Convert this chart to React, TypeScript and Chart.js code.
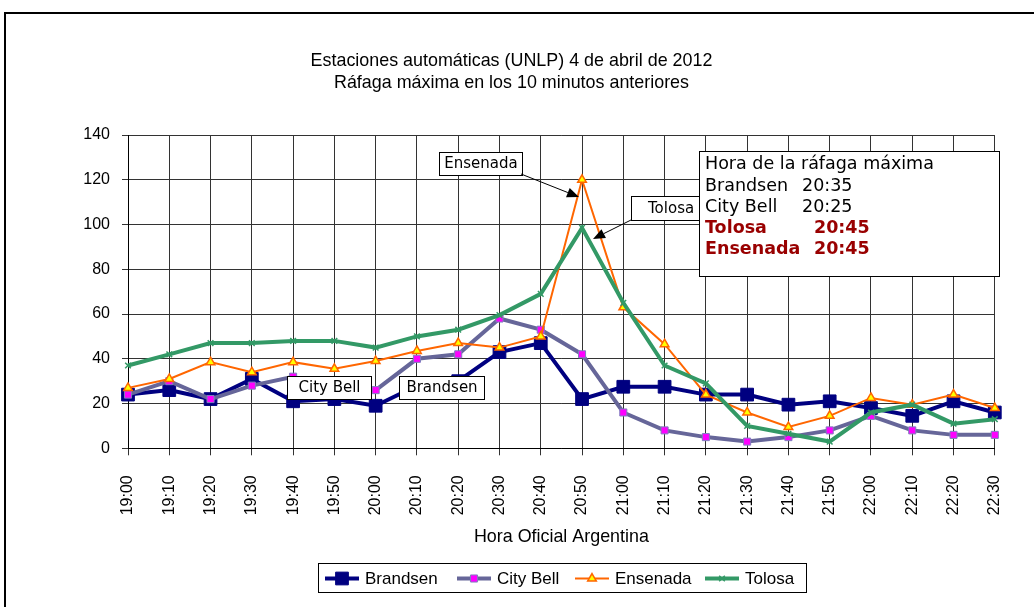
import React, { useEffect, useRef } from 'react';
import { Chart, registerables } from 'chart.js';

Chart.register(...registerables);

const categories = ['19:00', '19:10', '19:20', '19:30', '19:40', '19:50', '20:00', '20:10', '20:20', '20:30', '20:40', '20:50', '21:00', '21:10', '21:20', '21:30', '21:40', '21:50', '22:00', '22:10', '22:20', '22:30'];
const brandsen = [24, 26, 22, 31, 21, 22, 19, 28, 30, 43, 47, 22, 27.5, 27.5, 24, 24, 19.5, 21, 18, 14.5, 21, 16];
const cityBell = [24, 30, 22, 28, 32, 27, 26, 40, 42, 58, 53, 42, 16, 8, 5, 3, 5, 8, 14.5, 8, 6, 6];
const ensenada = [27, 31, 38.5, 34, 38.5, 35.5, 39, 43.5, 47, 45, 50, 120, 63, 46.5, 24, 16, 9.5, 14.5, 22.5, 19.5, 24, 18];
const tolosa = [37, 42, 47, 47, 48, 48, 45, 50, 53, 59.5, 69, 98.5, 65, 37, 29, 10, 6.5, 3, 16, 19.5, 11, 13];

const seriesNames = ['Brandsen', 'City Bell', 'Ensenada', 'Tolosa'];
const yTicks = [0, 20, 40, 60, 80, 100, 120, 140];

const titleLines = ['Estaciones automáticas (UNLP) 4 de abril de 2012', 'Ráfaga máxima en los 10 minutos anteriores'];
const xTitle = 'Hora Oficial Argentina';
const infoTitle = 'Hora de la ráfaga máxima';
const infoRows = [
  { name: 'Brandsen', time: '20:35', bold: false },
  { name: 'City Bell', time: '20:25', bold: false },
  { name: 'Tolosa', time: '20:45', bold: true },
  { name: 'Ensenada', time: '20:45', bold: true },
];

const SANS = "'Liberation Sans', Arial, sans-serif";
const VERD = "'DejaVu Sans', Verdana, sans-serif";

function drawMarker(ctx: CanvasRenderingContext2D, style: string, x: number, y: number, r: number, fill: string, stroke: string, bw: number) {
  ctx.save();
  ctx.fillStyle = fill;
  ctx.strokeStyle = stroke;
  ctx.lineWidth = bw;
  ctx.beginPath();
  if (style === 'rect') {
    const s = Math.SQRT1_2 * r;
    ctx.rect(x - s, y - s, 2 * s, 2 * s);
    ctx.fill();
    ctx.stroke();
  } else if (style === 'triangle') {
    ctx.moveTo(x, y - r);
    ctx.lineTo(x + r * 0.866, y + r * 0.5);
    ctx.lineTo(x - r * 0.866, y + r * 0.5);
    ctx.closePath();
    ctx.fill();
    ctx.stroke();
  } else {
    const d = r * Math.SQRT1_2;
    ctx.moveTo(x - d, y - d);
    ctx.lineTo(x + d, y + d);
    ctx.moveTo(x + d, y - d);
    ctx.lineTo(x - d, y + d);
    ctx.stroke();
  }
  ctx.restore();
}

function arrow(ctx: CanvasRenderingContext2D, x1: number, y1: number, x2: number, y2: number) {
  const ang = Math.atan2(y2 - y1, x2 - x1);
  const len = 12;
  const w = 5;
  const bx = x2 - len * Math.cos(ang);
  const by = y2 - len * Math.sin(ang);
  ctx.save();
  ctx.strokeStyle = '#000';
  ctx.fillStyle = '#000';
  ctx.lineWidth = 1;
  ctx.beginPath();
  ctx.moveTo(x1, y1);
  ctx.lineTo(bx, by);
  ctx.stroke();
  ctx.beginPath();
  ctx.moveTo(x2, y2);
  ctx.lineTo(bx + w * Math.sin(ang), by - w * Math.cos(ang));
  ctx.lineTo(bx - w * Math.sin(ang), by + w * Math.cos(ang));
  ctx.closePath();
  ctx.fill();
  ctx.restore();
}

function labelBox(ctx: CanvasRenderingContext2D, x: number, y: number, w: number, h: number, text: string, tx?: number) {
  ctx.save();
  ctx.fillStyle = '#fff';
  ctx.strokeStyle = '#000';
  ctx.lineWidth = 1;
  ctx.fillRect(x, y, w, h);
  ctx.strokeRect(x + 0.5, y + 0.5, w, h);
  ctx.fillStyle = '#000';
  ctx.font = `15px ${VERD}`;
  ctx.textBaseline = 'middle';
  if (tx === undefined) {
    ctx.textAlign = 'center';
    ctx.fillText(text, x + w / 2 + 0.5, y + h / 2 + 1);
  } else {
    ctx.textAlign = 'left';
    ctx.fillText(text, tx, y + h / 2 + 1);
  }
  ctx.restore();
}

const legendX = [325, 457, 575, 705];

const decorPlugin = {
  id: 'decor',
  afterDraw(chart: any) {
    const ctx: CanvasRenderingContext2D = chart.ctx;
    // outer frame
    ctx.save();
    ctx.strokeStyle = '#000';
    ctx.lineWidth = 2;
    ctx.strokeRect(5, 13, 1100, 700);
    ctx.restore();

    // annotation labels
    labelBox(ctx, 439, 152, 83, 23, 'Ensenada');
    arrow(ctx, 521, 174, 579, 197);
    labelBox(ctx, 631, 196, 76, 24, 'Tolosa', 648);
    arrow(ctx, 631, 220, 593, 239);
    labelBox(ctx, 287, 376, 84, 23, 'City Bell');
    labelBox(ctx, 399, 376, 85, 23, 'Brandsen');

    // info box
    ctx.save();
    ctx.fillStyle = '#fff';
    ctx.fillRect(699, 151, 300, 125);
    ctx.strokeStyle = '#000';
    ctx.lineWidth = 1;
    ctx.strokeRect(699.5, 151.5, 300, 125);
    ctx.textBaseline = 'middle';
    ctx.textAlign = 'left';
    ctx.fillStyle = '#000';
    ctx.font = `17.5px ${VERD}`;
    ctx.fillText(infoTitle, 705, 164.5);
    infoRows.forEach((r, i) => {
      const y = 186 + i * 21.3;
      if (r.bold) {
        ctx.font = `bold 17.5px ${VERD}`;
        ctx.fillStyle = '#990000';
        ctx.fillText(r.name, 705, y);
        ctx.fillText(r.time, 814, y);
      } else {
        ctx.font = `17.5px ${VERD}`;
        ctx.fillStyle = '#000';
        ctx.fillText(r.name, 705, y);
        ctx.fillText(r.time, 802, y);
      }
    });
    ctx.restore();

    // legend
    ctx.save();
    ctx.strokeStyle = '#000';
    ctx.lineWidth = 1;
    ctx.strokeRect(318.5, 563.5, 488, 29);
    ctx.font = `17px ${SANS}`;
    ctx.textBaseline = 'middle';
    ctx.textAlign = 'left';
    const ly = 578.5;
    chart.data.datasets.forEach((ds: any, i: number) => {
      const x = legendX[i];
      ctx.save();
      ctx.strokeStyle = ds.borderColor;
      ctx.lineWidth = ds.borderWidth;
      ctx.beginPath();
      ctx.moveTo(x, ly);
      ctx.lineTo(x + 34, ly);
      ctx.stroke();
      ctx.restore();
      drawMarker(ctx, ds.pointStyle, x + 17, ly, ds.pointRadius, ds.pointBackgroundColor, ds.pointBorderColor, ds.pointBorderWidth);
      ctx.fillStyle = '#000';
      ctx.fillText(ds.label, x + 40, ly + 1);
    });
    ctx.restore();
  },
};

export default function App() {
  const ref = useRef<HTMLCanvasElement | null>(null);
  useEffect(() => {
    if (!ref.current) return;
    const chart = new Chart(ref.current, {
      type: 'line',
      data: {
        labels: categories,
        datasets: [
          {
            label: seriesNames[0], data: brandsen, borderColor: '#000080', borderWidth: 4,
            pointStyle: 'rect', pointRadius: 9, pointHoverRadius: 9, pointBackgroundColor: '#000080',
            pointBorderColor: '#000080', pointBorderWidth: 1, order: 4, clip: false,
          },
          {
            label: seriesNames[1], data: cityBell, borderColor: '#666699', borderWidth: 4,
            pointStyle: 'rect', pointRadius: 5, pointHoverRadius: 5, pointBackgroundColor: '#FF00FF',
            pointBorderColor: '#7F7FBF', pointBorderWidth: 1, order: 3, clip: false,
          },
          {
            label: seriesNames[2], data: ensenada, borderColor: '#FF6600', borderWidth: 2,
            pointStyle: 'triangle', pointRadius: 5, pointHoverRadius: 5, pointBackgroundColor: '#FFFF00',
            pointBorderColor: '#FF6600', pointBorderWidth: 1.5, order: 2, clip: false,
          },
          {
            label: seriesNames[3], data: tolosa, borderColor: '#339966', borderWidth: 4,
            pointStyle: 'crossRot', pointRadius: 4, pointHoverRadius: 4, pointBackgroundColor: '#339966',
            pointBorderColor: '#339966', pointBorderWidth: 1.5, order: 1, clip: false,
          },
        ] as any,
      },
      options: {
        responsive: false,
        animation: false,
        devicePixelRatio: 1,
        elements: { line: { tension: 0 } },
        layout: { padding: { left: 0, right: 11, top: 0, bottom: 59.5 } },
        plugins: {
          legend: { display: false },
          tooltip: { enabled: false },
          title: {
            display: true,
            text: titleLines,
            color: '#000',
            font: { family: SANS, size: 17.9, weight: 'normal', lineHeight: 22 / 17.9 },
            padding: { top: 50, bottom: 41 },
          },
        },
        scales: {
          x: {
            type: 'category',
            offset: false,
            grid: { color: '#333', lineWidth: 1, tickLength: 7, drawTicks: true },
            border: { color: '#000', width: 1 },
            ticks: {
              color: '#000', font: { family: SANS, size: 16 }, maxRotation: 90, minRotation: 90,
              padding: 20, autoSkip: false,
            },
            title: {
              display: true, text: xTitle, color: '#000', font: { family: SANS, size: 17.9, lineHeight: 1.2 },
              padding: { top: 0, bottom: 0 },
            },
            afterFit: (s: any) => { s.height = 99.2; },
          },
          y: {
            min: 0,
            max: 140,
            grid: { color: '#333', lineWidth: 1, tickLength: 6, drawTicks: true },
            border: { color: '#000', width: 1 },
            afterBuildTicks: (s: any) => { s.ticks = yTicks.map((v) => ({ value: v })); },
            ticks: { color: '#000', font: { family: SANS, size: 16 }, padding: 12 },
            afterFit: (s: any) => { s.width = 128; },
          },
          ySpacer: {
            position: 'right',
            min: 0,
            max: 140,
            grid: { display: false, drawTicks: false },
            border: { display: false },
            ticks: { display: false },
            afterFit: (s: any) => { s.width = 27; },
          },
        },
      } as any,
      plugins: [decorPlugin],
    });
    return () => chart.destroy();
  }, []);
  return (
    <div style={{ position: 'absolute', left: 0, top: 0, width: 1034, height: 607, background: '#fff' }}>
      <canvas ref={ref} width={1034} height={607} style={{ display: 'block' }} />
    </div>
  );
}
